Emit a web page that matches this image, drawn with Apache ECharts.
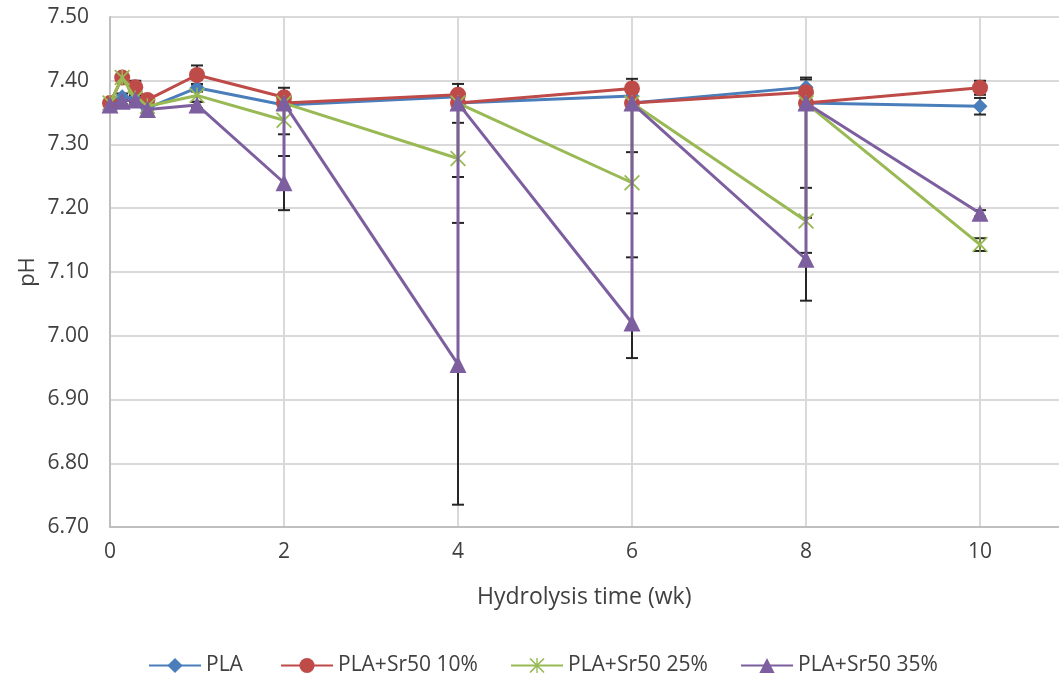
<!DOCTYPE html>
<html>
<head>
<meta charset="utf-8">
<script src="https://cdn.jsdelivr.net/npm/echarts@6/dist/echarts.min.js"></script>
<style>
  html, body { margin: 0; padding: 0; background: #fff; overflow: hidden; }
  #chart { width: 1170px; height: 682px; }
</style>
</head>
<body>
<div id="chart"></div>
<script>
// Sampling times in weeks; a repeated week holds the reading before and after the medium change
const weeks = [0, 0.14, 0.29, 0.43, 1, 2, 2, 4, 4, 6, 6, 8, 8, 10];

const seriesNames = ['PLA', 'PLA+Sr50 10%', 'PLA+Sr50 25%', 'PLA+Sr50 35%'];

const phPLA   = [7.365, 7.375, 7.372, 7.357, 7.389, 7.362, 7.365, 7.375, 7.365, 7.376, 7.365, 7.390, 7.365, 7.360];
const phSr10  = [7.365, 7.405, 7.390, 7.370, 7.409, 7.374, 7.365, 7.378, 7.365, 7.388, 7.365, 7.382, 7.365, 7.389];
const phSr25  = [7.365, 7.405, 7.372, 7.360, 7.377, 7.338, 7.365, 7.278, 7.365, 7.240, 7.365, 7.180, 7.365, 7.143];
const phSr35  = [7.362, 7.368, 7.370, 7.355, 7.362, 7.240, 7.365, 6.955, 7.365, 7.020, 7.365, 7.120, 7.365, 7.192];

// Error bar lengths above / below each reading (0 = no error bar)
const upPLA    = [0, 0.005, 0.005, 0.005, 0.006, 0.006, 0, 0.006, 0, 0.006, 0, 0.015, 0, 0.013];
const downPLA  = [0, 0.005, 0.005, 0.005, 0.006, 0.006, 0, 0.006, 0, 0.006, 0, 0.015, 0, 0.013];
const upSr10   = [0, 0.007, 0.010, 0.005, 0.015, 0.015, 0, 0.017, 0, 0.015, 0, 0.020, 0, 0.011];
const downSr10 = [0, 0.007, 0.010, 0.005, 0.015, 0.015, 0, 0.017, 0, 0.015, 0, 0.020, 0, 0.011];
const upSr25   = [0, 0.006, 0.006, 0.005, 0.010, 0.022, 0, 0.056, 0, 0.048, 0, 0.052, 0, 0.010];
const downSr25 = [0, 0.006, 0.006, 0.005, 0.010, 0.022, 0, 0.029, 0, 0.048, 0, 0.050, 0, 0.010];
const upSr35   = [0, 0.005, 0.005, 0.005, 0.005, 0.042, 0, 0.222, 0, 0.103, 0, 0.065, 0, 0.005];
const downSr35 = [0, 0.005, 0.005, 0.005, 0.005, 0.043, 0, 0.220, 0, 0.055, 0, 0.065, 0, 0.005];

const yTicks = { min: 6.7, max: 7.5, step: 0.1 };
const xTicks = { min: 0, max: 12, step: 2 };

const colors = ['#4A7EBB', '#BE4B48', '#98B954', '#7D5FA0'];
const starPath = 'path://M0,1.6L1.6,0L20,18.4L18.4,20Z M18.4,0L20,1.6L1.6,20L0,18.4Z M9.1,0L10.9,0L10.9,20L9.1,20Z';
const symbols = ['diamond', 'circle', starPath, 'triangle'];
const symbolSizes = [15, 16, 16, 17];

const values = [phPLA, phSr10, phSr25, phSr35];
const ups = [upPLA, upSr10, upSr25, upSr35];
const downs = [downPLA, downSr10, downSr25, downSr35];

const FONT = 'Open Sans';
const TEXT = '#404040';

function pairs(ys) { return weeks.map((w, i) => [w, ys[i]]); }
function errRows(ys, up, down) { return weeks.map((w, i) => [w, ys[i], up[i], down[i]]); }

function renderErrorBar(params, api) {
  const x = api.value(0), y = api.value(1), eu = api.value(2), ed = api.value(3);
  if (!eu && !ed) return null;
  const top = api.coord([x, y + eu]);
  const bot = api.coord([x, y - ed]);
  const half = 6;
  const st = { stroke: '#262626', lineWidth: 2 };
  return {
    type: 'group',
    children: [
      { type: 'line', shape: { x1: top[0], y1: top[1], x2: bot[0], y2: bot[1] }, style: st },
      { type: 'line', shape: { x1: top[0] - half, y1: top[1], x2: top[0] + half, y2: top[1] }, style: st },
      { type: 'line', shape: { x1: bot[0] - half, y1: bot[1], x2: bot[0] + half, y2: bot[1] }, style: st }
    ]
  };
}

const series = [];
values.forEach((ys, k) => {
  series.push({
    type: 'custom',
    renderItem: renderErrorBar,
    data: errRows(ys, ups[k], downs[k]),
    encode: { x: 0, y: 1 },
    z: 1,
    silent: true
  });
});
values.forEach((ys, k) => {
  series.push({
    name: seriesNames[k],
    type: 'line',
    data: pairs(ys),
    color: colors[k],
    symbol: symbols[k],
    symbolSize: symbolSizes[k],
    showAllSymbol: true,
    lineStyle: { width: 3, color: colors[k] },
    itemStyle: { color: colors[k] },
    z: 2 + k
  });
});

const legendLefts = [148, 280, 510, 740];
const legends = seriesNames.map((n, k) => ({
  data: [n],
  left: legendLefts[k],
  top: 655,
  padding: 0,
  itemWidth: 52,
  itemHeight: 19,
  itemGap: 6,
  textStyle: { fontFamily: FONT, fontSize: 21, color: TEXT },
  selectedMode: false
}));

const chart = echarts.init(document.getElementById('chart'), null, { renderer: 'canvas' });
chart.setOption({
  animation: false,
  backgroundColor: '#fff',
  grid: { left: 110, top: 17, width: 1044, height: 510 },
  legend: legends,
  xAxis: {
    type: 'value',
    min: xTicks.min, max: xTicks.max, interval: xTicks.step,
    axisLine: { show: true, lineStyle: { color: '#BFBFBF', width: 2 } },
    axisTick: { show: false },
    splitLine: { show: true, lineStyle: { color: '#D9D9D9', width: 2 } },
    axisLabel: { color: TEXT, fontFamily: FONT, fontSize: 21, margin: 15 }
  },
  yAxis: {
    type: 'value',
    min: yTicks.min, max: yTicks.max, interval: yTicks.step,
    axisLine: { show: true, lineStyle: { color: '#BFBFBF', width: 2 } },
    axisTick: { show: false },
    splitLine: { show: true, lineStyle: { color: '#D9D9D9', width: 2 } },
    axisLabel: { color: TEXT, fontFamily: FONT, fontSize: 21, margin: 21,
      formatter: v => v.toFixed(2) }
  },
  graphic: [
    { type: 'text', left: 477, top: 586,
      style: { text: 'Hydrolysis time (wk)', fill: TEXT, font: '23px "' + FONT + '"' } },
    { type: 'text', x: 28, y: 272, rotation: Math.PI / 2,
      style: { text: 'pH', fill: TEXT, font: '22px "' + FONT + '"', align: 'center', verticalAlign: 'middle' } }
  ],
  series: series
});
</script>
</body>
</html>
